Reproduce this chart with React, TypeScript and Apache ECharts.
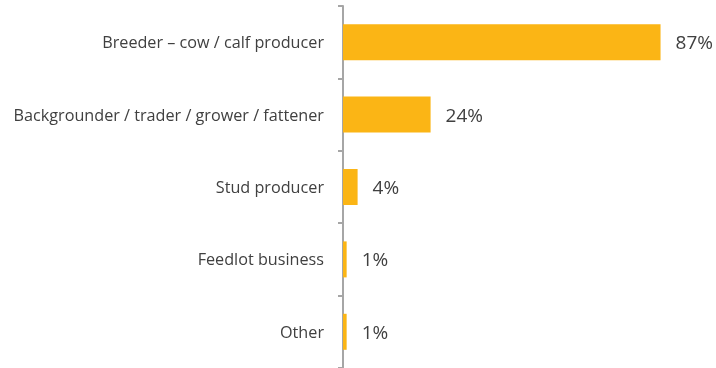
import React, { useEffect, useRef } from "react";
import * as echarts from "echarts";

const categories = [
  "Breeder – cow / calf producer",
  "Backgrounder / trader / grower / fattener",
  "Stud producer",
  "Feedlot business",
  "Other",
];
const values = [87, 24, 4, 1, 1];

export default function App() {
  const ref = useRef<HTMLDivElement>(null);
  useEffect(() => {
    const chart = echarts.init(ref.current!, null, { renderer: "svg" });
    chart.setOption({
      animation: false,
      grid: { left: 343, right: 8, top: 6, bottom: 0 },
      xAxis: { type: "value", min: 0, max: 100, show: false },
      yAxis: {
        type: "category",
        data: categories,
        inverse: true,
        axisLine: { show: true, lineStyle: { color: "#A6A6A6", width: 2 } },
        axisTick: { show: true, length: 5, lineStyle: { color: "#A6A6A6", width: 2 } },
        axisLabel: { color: "#404040", fontFamily: "Open Sans", fontSize: 16.2, margin: 19 },
      },
      series: [
        {
          type: "bar",
          data: values,
          barWidth: 36,
          itemStyle: { color: "#FBB515" },
          label: {
            show: true,
            position: "right",
            distance: 15,
            formatter: "{c}%",
            color: "#404040",
            fontFamily: "Open Sans",
            fontSize: 19,
          },
        },
      ],
    });
    return () => chart.dispose();
  }, []);
  return <div ref={ref} style={{ position: "fixed", left: 0, top: 0, width: 716, height: 368 }} />;
}
